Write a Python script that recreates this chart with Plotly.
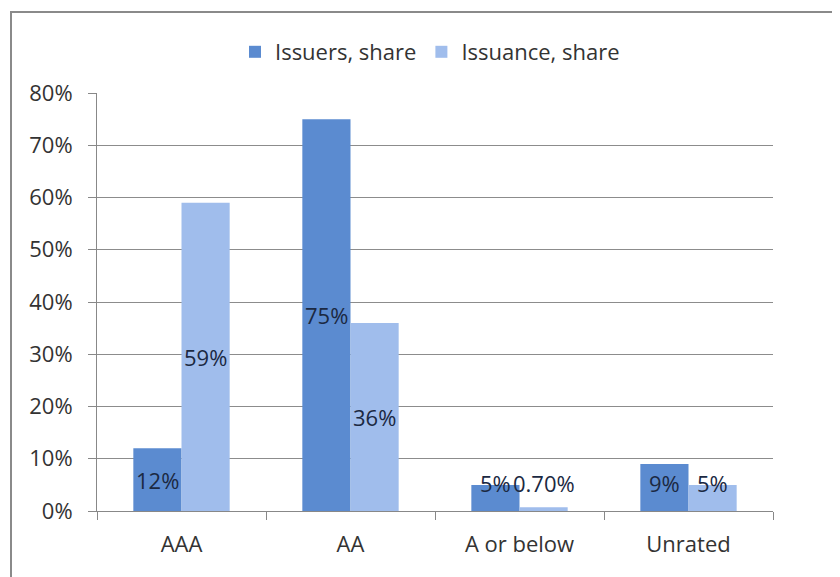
import plotly.graph_objects as go

categories = ["AAA", "AA", "A or below", "Unrated"]
issuers_share = [0.12, 0.75, 0.05, 0.09]
issuance_share = [0.59, 0.36, 0.007, 0.05]
issuers_labels = ["12%", "75%", "5%", "9%"]
issuance_labels = ["59%", "36%", "0.70%", "5%"]
y_ticks = [0, 0.1, 0.2, 0.3, 0.4, 0.5, 0.6, 0.7, 0.8]

FONT = "Open Sans"
FS = 22
label_font = dict(family=FONT, size=FS, color="#1b2942")

# page body offset in the browser
OFF = 8
W, H = 840 - OFF, 577 - OFF
# target absolute plot area: x 97..773, y 93..511
L, T = 97 - OFF, 93 - OFF
R, B = 840 - 773, 577 - 511
pw, ph = W - L - R, H - T - B

BARGAP = 0.43
cat_px = pw / len(categories)
bar_px = cat_px * (1 - BARGAP) / 2
min_label_y = 0.053  # labels kept clear of the axis, as in the source chart

fig = go.Figure()
fig.add_trace(go.Bar(
    name="Issuers, share", x=categories, y=issuers_share,
    marker=dict(color="#5b8bd0", line=dict(width=0)),
))
fig.add_trace(go.Bar(
    name="Issuance, share", x=categories, y=issuance_share,
    marker=dict(color="#a0bdec", line=dict(width=0)),
))

annotations = []
for vals, labs, sign in ((issuers_share, issuers_labels, -1), (issuance_share, issuance_labels, 1)):
    for c, v, t in zip(categories, vals, labs):
        annotations.append(dict(
            x=c, y=max(v / 2, min_label_y), xref="x", yref="y", text=t,
            showarrow=False, xshift=sign * bar_px / 2, font=label_font,
            xanchor="center", yanchor="middle",
        ))

fig.update_layout(
    width=W, height=H,
    margin=dict(l=L, r=R, t=T, b=B, pad=0),
    paper_bgcolor="white", plot_bgcolor="white",
    barmode="group", bargap=BARGAP, bargroupgap=0,
    font=dict(family=FONT, size=FS, color="#333333"),
    legend=dict(
        orientation="h", x=(430 - 97) / pw, xanchor="center",
        y=(511 - 52) / ph, yanchor="middle",
        font=dict(family=FONT, size=FS, color="#333333"),
        itemwidth=30, traceorder="normal",
        bgcolor="rgba(0,0,0,0)",
    ),
    xaxis=dict(
        type="category", showgrid=False, showline=True, linecolor="#888888",
        linewidth=1, ticks="outside", tickson="boundaries", ticklen=8,
        tickcolor="#888888", tickfont=dict(family=FONT, size=FS, color="#333333"),
        ticklabelstandoff=14,
    ),
    yaxis=dict(
        range=[0, 0.8], tickvals=y_ticks, tickformat=".0%",
        showgrid=True, gridcolor="#8c8c8c", gridwidth=1,
        showline=True, linecolor="#888888", linewidth=1,
        ticks="outside", ticklen=8, tickcolor="#888888",
        tickfont=dict(family=FONT, size=FS, color="#333333"),
        zeroline=False, fixedrange=True, ticklabelstandoff=11,
    ),
    annotations=annotations,
    shapes=[dict(
        type="rect", xref="paper", yref="paper",
        x0=(11 - 97) / pw, x1=(835 - 97) / pw,
        y0=-(B + 30) / ph, y1=(511 - 12) / ph,
        line=dict(color="#8a8a8a", width=2), fillcolor="rgba(0,0,0,0)", layer="below",
    )],
)

fig.write_html("out.html")
